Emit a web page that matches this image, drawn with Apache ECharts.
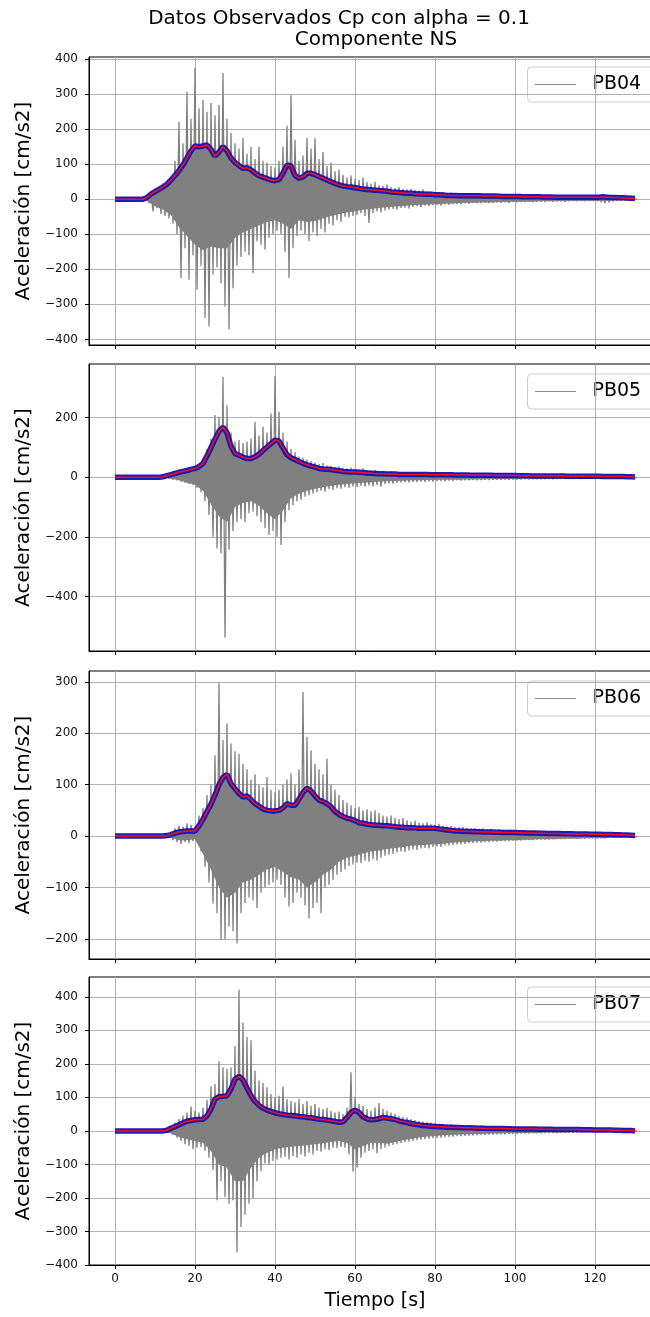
<!DOCTYPE html>
<html><head><meta charset="utf-8">
<script src="https://cdn.jsdelivr.net/npm/echarts@6/dist/echarts.min.js"></script>
<style>html,body{margin:0;padding:0;background:#fff}#c{width:650px;height:1317px}</style>
</head><body><div id="c"></div>
<script>
// ---------------- DATA ----------------
const titleMain = 'Datos Observados Cp con alpha = 0.1';
const titleSub = 'Componente NS';
const xName = 'Tiempo [s]';
const yName = 'Aceleración [cm/s2]';
const stations = ['PB04', 'PB05', 'PB06', 'PB07'];
const xTicks = [0, 20, 40, 60, 80, 100, 120];
const yTicks04 = [-400, -300, -200, -100, 0, 100, 200, 300, 400];
const yTicks05 = [-400, -200, 0, 200];
const yTicks06 = [-200, -100, 0, 100, 200, 300];
const yTicks07 = [-400, -300, -200, -100, 0, 100, 200, 300, 400];
// peak / envelope arrays: one value per second from t = 0 s
const tStart = 0, tStep = 1;
// dense-core lower edge arrays: one value every 2 s from t = 0 s
const coreStep = 2;

// PB04: positive peaks, negative peaks, envelope, lower edge of dense core (cm/s2)
const hi04 = [0,0,0,0,0,0,0,0,12,22, 28,33,45,50,62,110,221,160,307,230,
  375,260,283,250,275,240,270,360,230,190, 160,145,175,130,150,115,150,110,105,95,
  90,110,150,210,297,170,110,125,175,145, 174,115,135,95,105,80,85,70,62,68,
  58,55,62,50,45,50,40,38,42,35, 32,35,30,28,30,26,25,28,22,22,
  20,18,20,17,18,16,15,17,15,14, 15,13,14,12,13,12,11,13,15,11,
  10,12,10,9,10,9,10,9,8,9, 8,9,8,8,9,8,7,8,7,8,
  7,10,14,12,8,6,5,5,4,3, 2];
const lo04 = [0,0,0,0,0,0,0,0,-12,-35, -25,-42,-48,-55,-70,-100,-225,-140,-230,-160,
  -258,-190,-339,-363,-215,-195,-240,-306,-372,-254, -190,-165,-150,-160,-211,-120,-130,-144,-110,-100,
  -90,-100,-150,-225,-140,-105,-90,-100,-120,-95, -105,-85,-95,-70,-75,-60,-65,-50,-52,-48,
  -45,-40,-48,-68,-40,-35,-38,-32,-30,-28, -30,-25,-24,-26,-22,-20,-22,-18,-20,-17,
  -16,-18,-15,-16,-14,-13,-14,-12,-13,-11, -12,-11,-10,-11,-10,-9,-10,-9,-11,-8,
  -9,-8,-8,-7,-8,-7,-7,-8,-6,-7, -6,-6,-7,-6,-5,-6,-5,-6,-5,-5,
  -6,-8,-12,-9,-6,-4,-4,-3,-3,-2, -1];
const env04 = [0,0,0,0,0,0,0,0,5,15, 22,28,35,43,55,68,82,98,118,138,
  152,150,152,155,142,123,135,150,138,118, 105,96,88,90,84,75,67,63,59,55,
  53,56,75,98,95,68,60,64,74,74, 70,65,60,55,50,45,41,38,36,35,
  33,31,29,28,27,26,25,24,23,21, 20,19,18,17,17,16,15,15,14,14,
  13,13,12,11,11,11,10,10,10,10, 10,10,9.5,9,9,9,8.5,8,8,8,
  7.5,7.5,7,7,7,7,7,6.5,6.5,6.5, 6,6,6,6,6,6,6,5.5,5.5,5.5,
  5.5,6,7,6,5,5,4.5,4,3.5,3, 2];
const core04 = [0,0,0,0,-5,-20,-30,-45,-80,-105,
  -130,-145,-135,-140,-140,-110,-95,-85,-75,-65,
  -60,-70,-85,-60,-65,-62,-55,-48,-42,-38,
  -34,-30,-28,-25,-23,-21,-19,-17,-16,-15,
  -14,-13,-12,-11,-10,-10,-9,-9,-8,-8,
  -7,-7,-7,-6,-6,-6,-6,-5,-5,-5,
  -5,-6,-4,-3,-2,-1];

// PB05
const hi05 = [0,0,0,0,0,0,0,0,0,0, 0,0,3,8,10,14,18,22,28,30,
  38,45,60,95,130,209,203,337,242,150, 120,125,115,120,130,186,140,170,150,214,
  340,220,150,120,95,85,70,65,60,55, 50,45,48,40,38,35,37,32,30,33,
  28,26,30,24,22,25,20,19,18,20, 17,16,15,17,14,15,13,14,12,13,
  12,11,12,10,11,10,11,9,10,9, 10,9,8,9,8,9,8,7,8,7,
  8,7,7,6,7,6,7,6,6,5, 6,5,6,5,5,5,5,4,5,4,
  4,4,4,3,4,3,3,3,2,2, 1];
const lo05 = [0,0,0,0,0,0,0,0,0,0, 0,0,-2,-5,-8,-10,-14,-18,-22,-25,
  -35,-50,-80,-126,-199,-238,-255,-537,-243,-180, -150,-140,-150,-120,-115,-130,-150,-170,-193,-180,
  -199,-227,-150,-110,-93,-80,-75,-65,-60,-55, -50,-45,-48,-40,-42,-36,-38,-33,-35,-30,
  -32,-28,-30,-27,-30,-25,-31,-22,-20,-21, -18,-17,-16,-17,-15,-16,-14,-15,-13,-14,
  -12,-12,-13,-11,-12,-10,-11,-10,-10,-9, -10,-9,-8,-9,-8,-8,-8,-7,-8,-7,
  -7,-7,-6,-7,-6,-6,-6,-6,-5,-6, -5,-5,-5,-5,-5,-4,-5,-4,-4,-4,
  -4,-4,-3,-3,-3,-3,-3,-2,-2,-2, -1];
const env05 = [0,0,0,0,0,0,0,0,0,0, 0,0,2,6,9,13,17,20,23,27,
  30,36,47,72,100,128,155,168,150,105, 80,74,68,63,63,69,78,90,102,113,
  125,122,98,76,66,60,53,47,42,38, 34,30,28,27,26,24,22,20,19,18,
  18,17,16,15,14,13,12,12,11,11, 11,10,10,10,10,10,10,9.5,9.5,9,
  9,9,9,8.5,8.5,8,8,8,8,7.5, 7.5,7,7,7,7,6.5,6.5,6,6,6,
  6,5.5,5.5,5.5,5,5,5,5,5,4.5, 4.5,4.5,4.5,4,4,4,4,4,3.5,3.5,
  3.5,3.5,3,3,3,3,2.5,2.5,2,2, 1.5];
const core05 = [0,0,0,0,0,0,0,-5,-10,-18,
  -25,-45,-90,-130,-150,-100,-85,-80,-95,-120,
  -140,-110,-70,-55,-45,-38,-33,-28,-25,-22,
  -20,-18,-16,-14,-13,-12,-11,-10,-10,-9,
  -9,-8,-8,-8,-7,-7,-7,-6,-6,-6,
  -6,-5,-5,-5,-5,-5,-4,-4,-4,-4,
  -4,-3,-3,-3,-2,-1];

// PB06
const hi06 = [0,0,0,0,0,0,0,0,0,0, 0,0,0,3,8,15,20,18,25,22,
  18,40,55,80,100,157,297,187,219,180, 165,160,140,130,110,120,100,95,115,90,
  85,90,100,110,122,100,130,280,193,167, 140,130,120,151,100,90,80,70,65,60,
  55,57,50,52,48,50,45,40,38,40, 35,33,35,30,28,30,26,25,27,23,
  22,24,20,19,20,18,17,18,16,15, 16,14,15,13,14,12,13,12,11,12,
  10,11,10,9,10,9,9,8,9,8, 8,7,8,7,7,6,7,6,6,5,
  6,5,5,5,4,4,4,3,3,2, 1];
const lo06 = [0,0,0,0,0,0,0,0,0,0, 0,0,0,-2,-8,-12,-15,-12,-14,-10,
  -12,-30,-60,-90,-131,-150,-202,-200,-176,-185, -209,-150,-130,-120,-125,-140,-110,-100,-95,-90,
  -85,-95,-120,-137,-130,-110,-120,-135,-160,-140, -130,-150,-100,-95,-85,-75,-70,-65,-58,-55,
  -52,-53,-48,-50,-45,-48,-42,-38,-36,-35, -32,-30,-31,-28,-26,-27,-24,-23,-24,-21,
  -20,-21,-18,-18,-17,-16,-16,-15,-14,-14, -13,-13,-12,-12,-11,-11,-10,-10,-10,-9,
  -9,-9,-8,-8,-8,-7,-7,-7,-7,-6, -6,-6,-6,-5,-5,-5,-5,-5,-4,-4,
  -4,-4,-4,-3,-3,-3,-3,-2,-2,-2, -1];
const env06 = [0,0,0,0,0,0,0,0,0,0, 0,0,0,1,3,6,8,9,10,10,
  10,20,33,48,62,80,100,114,120,102, 92,83,76,78,71,63,58,53,50,49,
  49,50,55,63,60,60,72,85,93,88, 78,70,67,63,57,48,42,38,35,33,
  30,26,25,23,22,21,21,20,20,19, 18,17,17,16,16,16,15,15,15,15,
  15,14,13,12,11,10,10,9.5,9,9, 8.5,8.5,8,8,8,7.5,7.5,7,7,7,
  7,6.5,6.5,6,6,6,5.5,5.5,5,5, 5,5,4.5,4.5,4.5,4,4,4,4,3.5,
  3.5,3.5,3,3,3,2.5,2.5,2,2,1.5, 1];
const core06 = [0,0,0,0,0,0,0,-3,-8,-8,
  -6,-35,-65,-100,-120,-110,-90,-85,-75,-65,
  -60,-70,-80,-85,-100,-90,-75,-65,-50,-42,
  -38,-34,-30,-28,-25,-23,-21,-19,-18,-17,
  -16,-15,-13,-12,-11,-10,-10,-9,-9,-8,
  -8,-7,-7,-6,-6,-6,-5,-5,-5,-4,
  -4,-4,-3,-3,-2,-1];

// PB07
const hi07 = [0,0,0,0,0,0,0,0,0,0, 0,0,0,5,15,25,35,45,55,73,
  60,55,70,93,133,140,208,190,185,190, 253,421,323,280,270,180,150,143,130,110,
  100,105,133,95,90,85,95,80,90,75, 80,70,65,68,60,55,58,50,70,175,
  100,80,75,65,60,70,83,65,60,55, 50,45,42,40,35,32,30,28,26,25,
  23,22,21,20,19,18,17,17,16,15, 15,14,13,13,12,12,11,11,10,10,
  10,9,9,9,8,8,8,7,7,7, 7,6,6,6,6,5,5,5,5,4,
  4,4,4,3,3,3,3,2,2,1, 1];
const lo07 = [0,0,0,0,0,0,0,0,0,0, 0,0,0,-4,-12,-20,-30,-40,-45,-55,
  -50,-48,-60,-80,-117,-207,-150,-197,-217,-207, -362,-287,-250,-217,-200,-150,-120,-97,-100,-90,
  -85,-80,-77,-85,-75,-80,-70,-77,-65,-70, -60,-62,-55,-58,-50,-52,-48,-50,-70,-122,
  -110,-80,-65,-60,-55,-67,-55,-50,-45,-42, -40,-36,-34,-32,-30,-28,-26,-25,-23,-22,
  -21,-20,-19,-18,-17,-16,-16,-15,-14,-14, -13,-12,-12,-11,-11,-10,-10,-10,-9,-9,
  -9,-8,-8,-8,-7,-7,-7,-6,-6,-6, -6,-5,-5,-5,-5,-5,-4,-4,-4,-4,
  -3,-3,-3,-3,-3,-2,-2,-2,-2,-1, -1];
const env07 = [0,0,0,0,0,0,0,0,0,0, 0,0,0,2,8,13,18,24,29,31,
  33,34,35,45,65,95,102,103,105,125, 155,163,152,128,105,88,76,68,62,58,
  54,51,49,47,46,45,43,42,40,39, 37,35,34,32,30,28,26,27,40,55,
  62,55,42,36,33,34,36,40,38,36, 34,30,27,25,22,20,18,16,15,14,
  13,12,12,11,11,10,10,9.5,9,9, 8.5,8,8,7.5,7.5,7,7,7,6.5,6.5,
  6,6,6,5.5,5.5,5.5,5,5,5,5, 4.5,4.5,4.5,4,4,4,4,3.5,3.5,3.5,
  3,3,3,2.5,2.5,2,2,1.5,1.5,1, 0];
const core07 = [0,0,0,0,0,0,0,-8,-18,-25,
  -30,-35,-60,-100,-110,-150,-150,-110,-80,-65,
  -55,-50,-47,-45,-43,-40,-37,-33,-30,-35,
  -55,-45,-35,-35,-38,-33,-28,-24,-20,-17,
  -15,-13,-12,-11,-10,-9,-9,-8,-8,-7,
  -7,-6,-6,-6,-5,-5,-5,-4,-4,-4,
  -3,-3,-3,-2,-2,-1];

// ---------------- LAYOUT ----------------
const panels = [
  { hi: hi04, lo: lo04, env: env04, core: core04, ticks: yTicks04, min: -416, max: 406, top: 57, height: 288 },
  { hi: hi05, lo: lo05, env: env05, core: core05, ticks: yTicks05, min: -582, max: 380, top: 364, height: 287 },
  { hi: hi06, lo: lo06, env: env06, core: core06, ticks: yTicks06, min: -239, max: 321, top: 671, height: 288 },
  { hi: hi07, lo: lo07, env: env07, core: core07, ticks: yTicks07, min: -400, max: 459, top: 977, height: 288 }
];
const FONT = '"DejaVu Sans", "Liberation Sans", sans-serif';
const gridLeft = 89, gridWidth = 572;

function timeOf(i) { return tStart + i * tStep; }
function coreTimeOf(i) { return tStart + i * coreStep; }
function traceData(hi, lo) {
  const out = [];
  for (let i = 0; i < hi.length; i++) {
    out.push([timeOf(i), hi[i]]);
    out.push([timeOf(i) + tStep / 2, lo[i]]);
  }
  return out;
}
function envData(env) { return env.map((v, i) => [timeOf(i), v]); }
const fmt = v => (v < 0 ? '\u2212' + Math.abs(v) : String(v));

const grids = [], xAxes = [], yAxes = [], series = [], graphics = [];
panels.forEach((p, i) => {
  grids.push({ left: gridLeft, width: gridWidth, top: p.top, height: p.height,
    show: true, borderColor: '#000', borderWidth: 1, backgroundColor: 'transparent',
    containLabel: false, outerBoundsMode: 'none' });
  const last = i === panels.length - 1;
  xAxes.push({ type: 'value', gridIndex: i, min: -6.5, max: 136.5,
    axisLine: { show: true, onZero: false, lineStyle: { color: '#000', width: 1 } },
    axisTick: { show: true, inside: false, length: 4, customValues: xTicks, lineStyle: { color: '#000' } },
    axisLabel: { show: last, customValues: xTicks, margin: 8, color: '#111', fontFamily: FONT, fontSize: 12, formatter: fmt },
    splitLine: { show: true, lineStyle: { color: '#b0b0b0', width: 1 } },
    name: last ? xName : '', nameLocation: 'middle', nameGap: 27,
    nameTextStyle: { color: '#000', fontFamily: FONT, fontSize: 19 } });
  yAxes.push({ type: 'value', gridIndex: i, min: p.min, max: p.max,
    axisLine: { show: true, onZero: false, lineStyle: { color: '#000', width: 1 } },
    axisTick: { show: true, inside: false, length: 4, customValues: p.ticks, lineStyle: { color: '#000' } },
    axisLabel: { show: true, customValues: p.ticks, margin: 11, color: '#111', fontFamily: FONT, fontSize: 12, formatter: fmt },
    splitLine: { show: true, lineStyle: { color: '#b0b0b0', width: 1 } },
    name: yName, nameLocation: 'middle', nameGap: 54, nameRotate: 90,
    nameTextStyle: { color: '#000', fontFamily: FONT, fontSize: 20 } });
  // dense core of the record: polygon between envelope (top) and core lower edge
  series.push({ type: 'custom', name: stations[i] + ' core', xAxisIndex: i, yAxisIndex: i,
    data: [[0, 0]], silent: true, z: 1, clip: true,
    renderItem: (params, api) => {
      const pts = [];
      p.env.forEach((v, k) => pts.push(api.coord([timeOf(k), v])));
      for (let k = p.core.length - 1; k >= 0; k--) pts.push(api.coord([coreTimeOf(k), p.core[k]]));
      return { type: 'polygon', shape: { points: pts }, style: { fill: '#808080' } };
    } });
  series.push({ type: 'line', name: stations[i], xAxisIndex: i, yAxisIndex: i,
    data: traceData(p.hi, p.lo), showSymbol: false, symbol: 'none', silent: true, z: 2,
    lineStyle: { color: '#808080', width: 1.3 } });
  series.push({ type: 'line', name: stations[i] + ' env', xAxisIndex: i, yAxisIndex: i,
    data: envData(p.env), showSymbol: false, symbol: 'none', silent: true, z: 3,
    lineStyle: { color: '#1010b4', width: 5.5, opacity: 0.95 } });
  series.push({ type: 'line', name: stations[i] + ' env2', xAxisIndex: i, yAxisIndex: i,
    data: envData(p.env), showSymbol: false, symbol: 'none', silent: true, z: 4,
    lineStyle: { color: '#ff1010', width: 1.5 } });
  // legend box (matplotlib style, upper right)
  const ly = p.top + 27.5;
  graphics.push({ type: 'group', z: 100, children: [
    { type: 'rect', shape: { x: 527.5, y: p.top + 10, width: 135, height: 35, r: 4 },
      style: { fill: 'rgba(255,255,255,0.8)', stroke: '#cccccc', lineWidth: 1 } },
    { type: 'line', shape: { x1: 535, y1: ly, x2: 576, y2: ly }, style: { stroke: '#909090', lineWidth: 1 } },
    { type: 'text', x: 592.5, y: ly, style: { text: stations[i], fill: '#000', fontFamily: FONT, fontSize: 19, verticalAlign: 'middle', align: 'left' } }
  ] });
});
graphics.push({ type: 'text', x: 339, y: 19, z: 100, style: { text: titleMain, fill: '#000', fontFamily: FONT, fontSize: 20, align: 'center', verticalAlign: 'middle' } });
graphics.push({ type: 'text', x: 376, y: 40, z: 100, style: { text: titleSub, fill: '#000', fontFamily: FONT, fontSize: 20, align: 'center', verticalAlign: 'middle' } });

const chart = echarts.init(document.getElementById('c'), null, { renderer: 'canvas' });
chart.setOption({
  animation: false,
  backgroundColor: '#fff',
  grid: grids, xAxis: xAxes, yAxis: yAxes, series: series, graphic: graphics,
  tooltip: { show: false }
});
</script></body></html>
